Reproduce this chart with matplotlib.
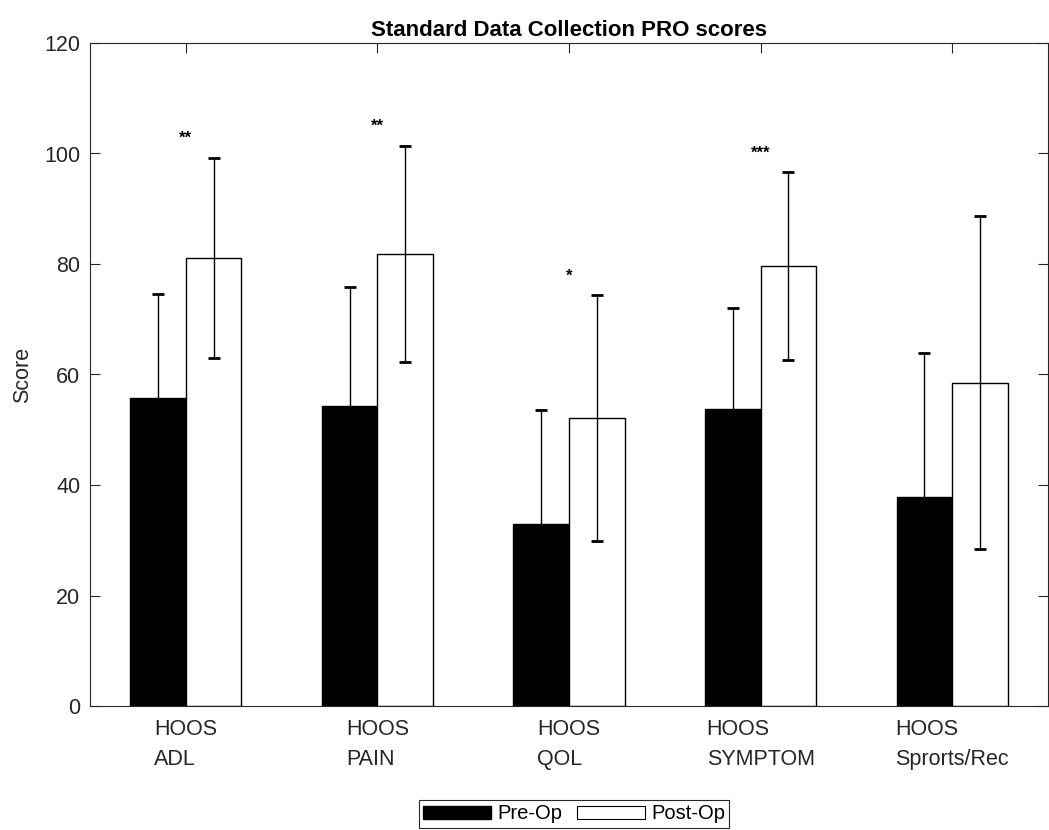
import matplotlib
matplotlib.use("Agg")
import matplotlib.pyplot as plt
from matplotlib.patches import Patch
import numpy as np

categories = ["HOOS\nADL", "HOOS\nPAIN", "HOOS\nQOL", "HOOS\nSYMPTOM", "HOOS\nSprorts/Rec"]
pre_op = [55.7, 54.3, 32.9, 53.8, 37.8]
pre_err = [18.9, 21.5, 20.7, 18.2, 26.1]
post_op = [81.1, 81.8, 52.1, 79.6, 58.5]
post_err = [18.1, 19.6, 22.2, 17.0, 30.1]
stars = ["**", "**", "*", "***", ""]
star_y = [102.8, 105.0, 77.7, 100.1, 0]
yticks = [0, 20, 40, 60, 80, 100, 120]

plt.rcParams['font.family'] = ['Liberation Sans', 'DejaVu Sans']
dark = '#262626'

fig = plt.figure(figsize=(10.49, 8.30), dpi=100)
ax = fig.add_axes([90/1049, (830-706)/830, 958/1049, 663/830])

x = np.arange(1, len(categories) + 1)
w = 0.29
ax.bar(x - w/2, pre_op, width=w, color='black', edgecolor='black', linewidth=1, zorder=2)
ax.bar(x + w/2, post_op, width=w, color='white', edgecolor='black', linewidth=1, zorder=2)
ax.errorbar(x - w/2, pre_op, yerr=pre_err, fmt='none', ecolor='black', elinewidth=1,
            capsize=4.3, capthick=2, zorder=3)
ax.errorbar(x + w/2, post_op, yerr=post_err, fmt='none', ecolor='black', elinewidth=1,
            capsize=4.3, capthick=2, zorder=3)

for xi, s, sy in zip(x, stars, star_y):
    if s:
        ax.text(xi, sy, s, ha='center', va='center', fontsize=12, fontweight='bold', zorder=4)

ax.set_xlim(0.5, 5.5)
ax.set_ylim(0, 120)
ax.set_yticks(yticks)
ax.set_xticks(x)
ax.set_xticklabels(categories)
for lab in ax.get_xticklabels():
    lab.set_multialignment('left')
    lab.set_linespacing(1.6)
ax.tick_params(axis='both', direction='in', length=7, width=0.8, colors=dark,
               labelsize=15.5, labelcolor=dark, top=True, right=True)
ax.tick_params(axis='x', pad=9)
ax.tick_params(axis='y', pad=7)
for sp in ax.spines.values():
    sp.set_color(dark)
    sp.set_linewidth(0.8)

ax.set_ylabel("Score", fontsize=15.5, color=dark, labelpad=8)
ax.set_title("Standard Data Collection PRO scores", fontsize=16, fontweight='bold', pad=5)

handles = [Patch(facecolor='black', edgecolor='black', label='Pre-Op'),
           Patch(facecolor='white', edgecolor='black', linewidth=0.8, label='Post-Op')]
leg = fig.legend(handles=handles, loc='lower center', bbox_to_anchor=(574/1049, 0.003),
                 ncol=2, fontsize=14.5, frameon=True, fancybox=False, framealpha=1,
                 edgecolor=dark, handlelength=3.4, handleheight=0.6, handletextpad=0.3,
                 columnspacing=0.7, borderpad=0.2, borderaxespad=0.0)
leg.get_frame().set_linewidth(0.8)

fig.savefig("out.png", dpi=100)
